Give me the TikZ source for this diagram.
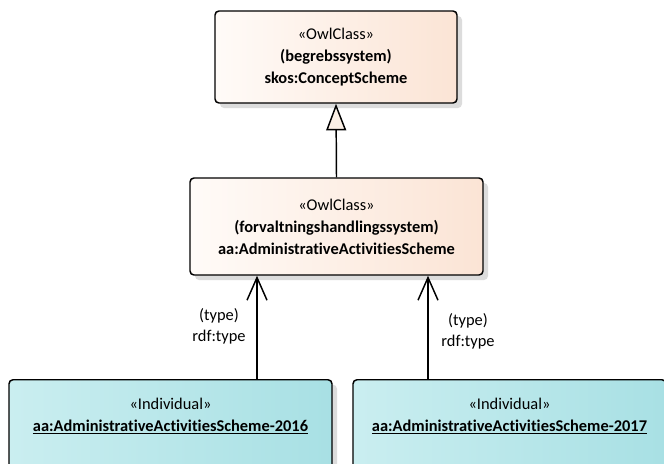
\documentclass[tikz,border=0pt]{standalone}
\usepackage{fontspec}
\setmainfont{Carlito}[Ligatures=NoCommon]
\usetikzlibrary{arrows.meta,shadows}

\definecolor{classL}{HTML}{FFFBF8}
\definecolor{classR}{HTML}{FBE4D5}
\definecolor{genfill}{HTML}{FBF0E6}
\definecolor{indivL}{HTML}{CAEEF0}
\definecolor{indivR}{HTML}{A8E0E4}
\definecolor{shade}{HTML}{DCDCDC}

\tikzset{
  umlbox/.style={draw=black, line width=1.1pt, rounded corners=3pt, inner sep=0pt,
    drop shadow={shadow xshift=3.75pt, shadow yshift=-3.75pt, fill=shade, opacity=1}},
  owlclass/.style={umlbox, left color=classL, right color=classR, align=center,
    font=\fontsize{12.3}{16.5}\selectfont},
  indiv/.style={umlbox, left color=indivL, right color=indivR, anchor=north},
  boxtext/.style={align=center, inner sep=0pt, anchor=north,
    font=\fontsize{12.3}{16.5}\selectfont},
  lbl/.style={align=center, inner sep=0pt, font=\fontsize{12.3}{16}\selectfont},
  generalization/.style={line width=1.1pt, -{Triangle[length=20pt,width=15pt,fill=genfill]}},
  rdftype/.style={line width=1.1pt, -{Straight Barb[length=17pt,width=15pt]}},
}

\begin{document}
\begin{tikzpicture}[x=0.75pt, y=-0.75pt]
  \path[use as bounding box, fill=white] (0,0) rectangle (664,464);
  \clip (0,0) rectangle (664,464);

  % classes
  \node[owlclass, minimum width=181.5pt, minimum height=69pt] (scheme) at (336,57)
    {«OwlClass»\\\textbf{(begrebssystem)}\\\textbf{skos:ConceptScheme}};
  \node[owlclass, minimum width=219.75pt, minimum height=72.75pt] (admin) at (336.5,226.5)
    {«OwlClass»\\\textbf{(forvaltningshandlingssystem)}\\\textbf{aa:AdministrativeActivitiesScheme}};

  % individuals
  \node[indiv, minimum width=242.25pt, minimum height=80pt] (i16) at (170.5,379) {};
  \node[boxtext] (t16) at ([yshift=-14pt]i16.north)
    {«Individual»\\\textbf{\underline{aa:AdministrativeActivitiesScheme-2016}}};
  \node[indiv, minimum width=234.75pt, minimum height=80pt] (i17) at (509.5,379) {};
  \node[boxtext] (t17) at ([yshift=-14pt]i17.north)
    {«Individual»\\\textbf{\underline{aa:AdministrativeActivitiesScheme-2017}}};

  % connectors
  \draw[generalization] (admin.north) -- (scheme.south);

  \coordinate (x16) at (257,0);
  \coordinate (x17) at (428,0);
  \draw[rdftype] (i16.north -| x16) -- (admin.south -| x16);
  \draw[rdftype] (i17.north -| x17) -- (admin.south -| x17);

  \node[lbl] (l16) at (219,326.5) {(type)\\rdf:type};
  \node[lbl] (l17) at (468,331) {(type)\\rdf:type};
\end{tikzpicture}
\end{document}
